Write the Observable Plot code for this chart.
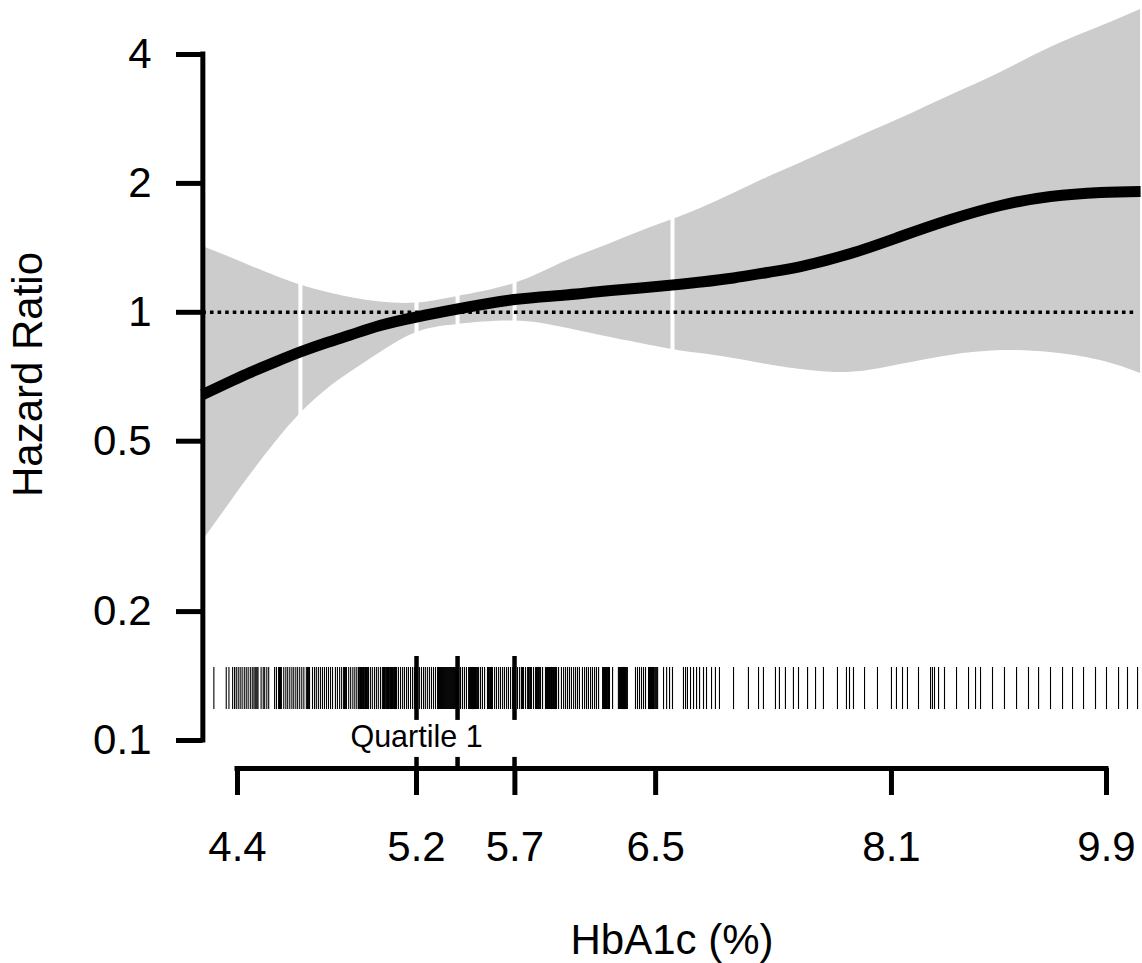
<!DOCTYPE html>
<html>
<head>
<meta charset="utf-8">
<script src="https://cdn.jsdelivr.net/npm/d3@7"></script>
<script src="https://cdn.jsdelivr.net/npm/@observablehq/plot@0.6"></script>
<style>
  html, body { margin: 0; padding: 0; background: #ffffff; }
  #chart svg { display: block; }
</style>
</head>
<body>
<div id="chart"></div>
<script>
// ---- Data ----
const hba1c = [4.26, 4.371, 4.454, 4.559, 4.666, 4.777, 4.889, 5.028, 5.2, 5.403, 5.698, 5.948, 6.174, 6.409, 6.603, 6.778, 6.99, 7.215, 7.441, 7.797, 8.169, 8.559, 8.968, 9.396, 9.845, 10.22];
const hazard = [0.643, 0.689, 0.724, 0.766, 0.808, 0.848, 0.885, 0.932, 0.975, 1.018, 1.071, 1.095, 1.118, 1.140, 1.158, 1.177, 1.203, 1.239, 1.279, 1.372, 1.503, 1.647, 1.776, 1.864, 1.905, 1.915];
const upperCI = [1.425, 1.343, 1.283, 1.216, 1.158, 1.115, 1.083, 1.057, 1.051, 1.089, 1.168, 1.300, 1.417, 1.544, 1.647, 1.748, 1.894, 2.065, 2.232, 2.519, 2.835, 3.209, 3.631, 4.153, 4.650, 5.095];
const lowerCI = [0.293, 0.360, 0.418, 0.497, 0.580, 0.657, 0.724, 0.806, 0.897, 0.937, 0.954, 0.924, 0.883, 0.846, 0.819, 0.801, 0.780, 0.755, 0.735, 0.724, 0.755, 0.793, 0.814, 0.806, 0.772, 0.720];

const knots = [4.666, 5.2, 5.403, 5.698, 6.603];
const quartileCuts = [5.2, 5.403, 5.698];
const quartileLabels = [{label: "Quartile 1", x: 5.2}];

const xTicks = [4.4, 5.2, 5.7, 6.5, 8.1, 9.9];
const yTicks = [0.1, 0.2, 0.5, 1, 2, 4];
const xTitle = "HbA1c (%)";
const yTitle = "Hazard Ratio";
const refHR = 1;
const refEnd = 10.17;

const rug = [
4.304, 4.354, 4.365, 4.380, 4.388, 4.395, 4.403, 4.411, 4.419, 4.428, 4.436, 4.444, 4.453, 4.461, 4.468, 4.473, 4.477, 4.481, 4.485, 4.498, 4.507, 4.513, 4.522, 4.530,
4.555, 4.563, 4.572, 4.576, 4.580, 4.584, 4.594, 4.603, 4.611, 4.620, 4.629, 4.637, 4.646, 4.654, 4.663, 4.672, 4.681, 4.692, 4.697, 4.701, 4.706,
4.719, 4.728, 4.736, 4.745, 4.754, 4.763, 4.772, 4.781, 4.790, 4.799, 4.808, 4.821, 4.830, 4.840, 4.849, 4.858, 4.862, 4.867, 4.871,
4.881, 4.890, 4.900, 4.909, 4.918, 4.926, 4.930, 4.935, 4.940, 4.944, 4.949, 4.953, 4.958, 4.963, 4.967, 4.972,
4.981, 4.990, 5.000, 5.009, 5.018, 5.028, 5.037, 5.042, 5.047, 5.051, 5.056, 5.061, 5.066, 5.070, 5.075, 5.080, 5.085, 5.089, 5.094, 5.099, 5.104,
5.113, 5.123, 5.133, 5.142, 5.152, 5.161, 5.171, 5.181, 5.190, 5.195, 5.200, 5.205,
5.214, 5.224, 5.234, 5.243, 5.253, 5.263, 5.273, 5.283, 5.293,
5.303, 5.308, 5.313, 5.318, 5.323, 5.328, 5.333, 5.338, 5.343, 5.348, 5.353, 5.358, 5.363, 5.368, 5.373, 5.378, 5.383, 5.388, 5.393, 5.398, 5.403,
5.418, 5.428, 5.438, 5.448, 5.459, 5.464, 5.469, 5.474, 5.479, 5.484, 5.489, 5.494, 5.499, 5.505, 5.510,
5.520, 5.530, 5.541, 5.556, 5.561, 5.567, 5.572, 5.577, 5.582,
5.593, 5.603, 5.614, 5.624, 5.635, 5.645, 5.656, 5.666, 5.677, 5.688, 5.693, 5.698,
5.714, 5.725, 5.735, 5.741, 5.746, 5.757, 5.768, 5.773, 5.779, 5.784, 5.789, 5.800, 5.811, 5.816, 5.822, 5.827, 5.833, 5.838, 5.849,
5.865, 5.871, 5.876, 5.882, 5.887, 5.893, 5.898, 5.904, 5.909, 5.915, 5.920,
5.926, 5.937, 5.953, 5.965, 5.976, 5.987, 5.998, 6.009, 6.021, 6.032, 6.043, 6.054, 6.071, 6.083, 6.094, 6.105, 6.117, 6.128, 6.140, 6.151, 6.163,
6.186, 6.191, 6.197, 6.203, 6.209, 6.214, 6.220, 6.226, 6.244,
6.278, 6.284, 6.290, 6.296, 6.302, 6.308, 6.314, 6.320, 6.325, 6.331,
6.379, 6.391, 6.403, 6.415, 6.427, 6.439,
6.457, 6.463, 6.469, 6.475, 6.481, 6.487, 6.494, 6.500, 6.506, 6.512,
6.548, 6.567, 6.585, 6.603,
6.671, 6.684, 6.696, 6.715, 6.734, 6.753, 6.772, 6.797, 6.816, 6.848, 6.873, 6.899,
6.990, 7.088, 7.155, 7.188, 7.269, 7.296, 7.337, 7.392, 7.427, 7.490, 7.546, 7.602, 7.702, 7.767, 7.789, 7.818, 7.899, 7.995,
8.100, 8.138, 8.184, 8.222, 8.307, 8.401, 8.416, 8.432, 8.464, 8.511, 8.607, 8.704, 8.761, 8.802, 8.901,
9.001, 9.103, 9.205, 9.292, 9.396, 9.502, 9.591, 9.690, 9.799, 9.900, 10.012, 10.096, 10.191
];

// ---- Build table for the curve ----
const curve = hba1c.map((x, i) => ({x, hr: hazard[i], lo: lowerCI[i], hi: upperCI[i]}));

// Layout constants (in data units of the log hazard scale)
const RUG_LO = 0.1181, RUG_HI = 0.1481;
const QMARK_LO = 0.1114, QMARK_HI = 0.1571;
const XAXIS_Y = 0.0860, XAXIS_UP = 0.0913;

const font = "'Liberation Sans', Arial, Helvetica, sans-serif";

const chart = Plot.plot({
  width: 1142,
  height: 963,
  marginLeft: 202.5,
  marginRight: 1.5,
  marginTop: 0,
  marginBottom: 195,
  style: {fontFamily: font, background: "#ffffff", color: "#000000", overflow: "visible"},
  x: {type: "log", domain: [4.4, 9.9], range: [237, 1106]},
  y: {type: "log", domain: [0.1, 4], range: [740, 54]},
  marks: [
    Plot.areaY(curve, {x: "x", y1: "lo", y2: "hi", fill: "#cccccc", curve: "natural"}),
    Plot.ruleX(knots, {y1: 0.22, y2: 5.6, stroke: "#ffffff", strokeWidth: 4}),
    Plot.ruleX(rug, {y1: RUG_LO, y2: RUG_HI, stroke: "#000000", strokeWidth: 1.1}),
    Plot.ruleX(quartileCuts, {y1: QMARK_LO, y2: QMARK_HI, stroke: "#000000", strokeWidth: 4.5}),
    Plot.ruleY([refHR], {x1: hba1c[0], x2: refEnd, stroke: "#000000", strokeWidth: 3.5, strokeDasharray: "3.6,4"}),
    Plot.line(curve, {x: "x", y: "hr", stroke: "#000000", strokeWidth: 11, curve: "natural", strokeLinecap: "butt"}),
    // y axis line
    Plot.ruleX([hba1c[0]], {y1: yTicks[0], y2: yTicks[yTicks.length - 1], stroke: "#000000", strokeWidth: 5, strokeLinecap: "square"}),
    // x axis line
    Plot.ruleY([XAXIS_Y], {x1: xTicks[0], x2: xTicks[xTicks.length - 1], stroke: "#000000", strokeWidth: 5, strokeLinecap: "square"}),
    Plot.ruleX(quartileCuts, {y1: XAXIS_Y, y2: XAXIS_UP, stroke: "#000000", strokeWidth: 4.5}),
    Plot.axisY(yTicks, {anchor: "left", tickSize: 26.5, tickPadding: 25, fontSize: 42, strokeWidth: 5, tickFormat: d => String(d), label: null}),
    Plot.axisX(xTicks, {anchor: "bottom", tickSize: 27, tickPadding: 36, fontSize: 42, strokeWidth: 5, tickFormat: d => d.toFixed(1), label: null}),
    Plot.text(quartileLabels, {x: "x", y: 0.1, text: "label", fontSize: 30.5, dy: -3, fill: "#000000"}),
    Plot.text([xTitle], {text: d => d, frameAnchor: "bottom", lineAnchor: "bottom", dy: 185, fontSize: 42, fill: "#000000"}),
    Plot.text([yTitle], {text: d => d, frameAnchor: "top-left", textAnchor: "middle", rotate: -90, lineAnchor: "bottom", dx: -161, dy: 374, fontSize: 42, fill: "#000000"})
  ]
});

document.getElementById("chart").appendChild(chart);
</script>
</body>
</html>
